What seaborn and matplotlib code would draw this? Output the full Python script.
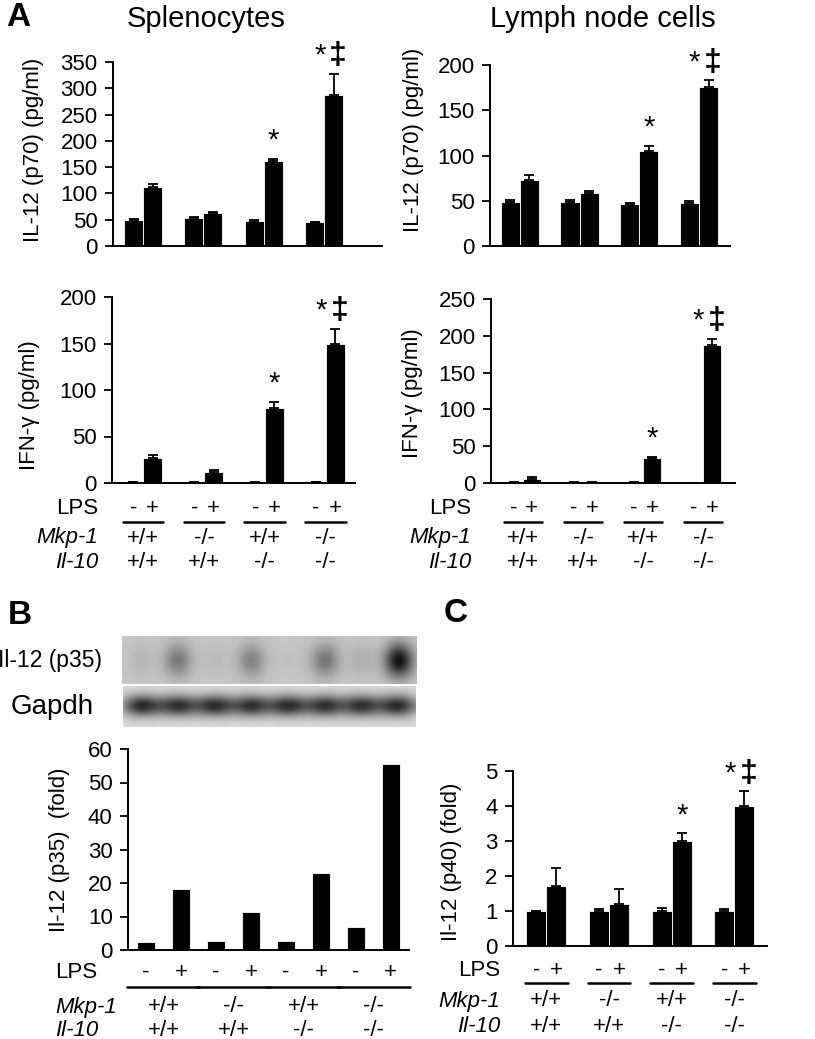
import numpy as np
import pandas as pd
import matplotlib
matplotlib.use("Agg")
import matplotlib.pyplot as plt
import matplotlib.transforms as mtransforms
import seaborn as sns

# ---------------- data ----------------
groups = ["g1", "g2", "g3", "g4"]
lps_levels = ["-", "+"]
mkp1_labels = ["+/+", "-/-", "+/+", "-/-"]
il10_labels = ["+/+", "+/+", "-/-", "-/-"]

spl_il12_minus = [50, 53, 48, 45]
spl_il12_plus = [113, 62, 162, 287]
spl_il12_err_minus = [1.5, 2, 1.5, 1.5]
spl_il12_err_plus = [4, 2, 4, 41]

lym_il12_minus = [49, 49, 46, 48]
lym_il12_plus = [73, 59, 105, 176]
lym_il12_err_minus = [2, 2, 2, 2]
lym_il12_err_plus = [5, 2, 6, 7]

spl_ifn_minus = [1, 1, 0.5, 1]
spl_ifn_plus = [27, 12, 81, 149]
spl_ifn_err_minus = [0.5, 0.5, 0.3, 0.5]
spl_ifn_err_plus = [3, 1.5, 6, 17]

lym_ifn_minus = [1, 0.5, 1, 0.3]
lym_ifn_plus = [6, 0.8, 34, 187]
lym_ifn_err_minus = [0.3, 0.2, 0.3, 0]
lym_ifn_err_plus = [2, 0.2, 2, 9]

p35_minus = [2.3, 2.8, 2.6, 6.8]
p35_plus = [18.3, 11.3, 23.0, 55.5]

p40_minus = [1, 1, 1, 1]
p40_plus = [1.72, 1.2, 3.0, 4.0]
p40_err_minus = [0, 0.05, 0.08, 0.05]
p40_err_plus = [0.5, 0.42, 0.22, 0.42]

star_marks = [False, False, True, True]
dagger_marks = [False, False, False, True]

# blot band intensities (0 = none, 1 = strongest)
p35_band = [0.08, 0.40, 0.06, 0.35, 0.03, 0.42, 0.12, 0.95]
gapdh_band = [0.85, 0.80, 0.82, 0.80, 0.82, 0.80, 0.80, 0.85]

# ---------------- setup ----------------
sns.set_theme(style="ticks")
plt.rcParams["font.family"] = ["Liberation Sans", "DejaVu Sans"]
plt.rcParams["axes.linewidth"] = 1.4

W, H = 815, 1039
FS = 16
fig = plt.figure(figsize=(W / 100, H / 100), dpi=100)
fig.patch.set_facecolor("white")
pix = mtransforms.Affine2D().scale(1 / W, -1 / H).translate(0, 1) + fig.transFigure


def rect(x0, y0, x1, y1):
    return [x0 / W, 1 - y1 / H, (x1 - x0) / W, (y1 - y0) / H]


def bar_panel(box, minus, plus, err_minus, err_plus, ylim, ystep, ylabel,
              width, gap, xlim, label_center, marks=False, rows=None):
    x0, y0, x1, y1 = box
    ax = fig.add_axes(rect(x0, y0, x1, y1))
    df = pd.DataFrame({
        "group": groups * 2,
        "lps": ["-"] * 4 + ["+"] * 4,
        "value": list(minus) + list(plus),
    })
    sns.barplot(data=df, x="group", y="value", hue="lps", order=groups,
                hue_order=lps_levels, palette=["black", "black"],
                saturation=1, width=width, gap=gap, errorbar=None,
                legend=False, ax=ax, edgecolor="white", linewidth=0.6)
    off = width / 4
    gx = np.arange(len(groups))
    if err_minus is not None:
        ax.errorbar(gx - off, minus, yerr=[np.zeros(4), err_minus], fmt="none",
                    ecolor="black", elinewidth=1.3, capsize=3.5, capthick=1.3)
        ax.errorbar(gx + off, plus, yerr=[np.zeros(4), err_plus], fmt="none",
                    ecolor="black", elinewidth=1.3, capsize=3.5, capthick=1.3)
    if marks:
        for i in range(4):
            top = plus[i] + (err_plus[i] if err_plus is not None else 0)
            if dagger_marks[i]:
                ax.annotate("\u2021", xy=(gx[i] + off, top), xytext=(3, 2),
                            textcoords="offset points", ha="center",
                            va="bottom", fontsize=23, fontweight="bold",
                            color="black")
                ax.annotate("*", xy=(gx[i] + off, top), xytext=(-10, 3),
                            textcoords="offset points", ha="center",
                            va="bottom", fontsize=21, color="black")
            elif star_marks[i]:
                ax.annotate("*", xy=(gx[i] + off, top), xytext=(0, 3),
                            textcoords="offset points", ha="center",
                            va="bottom", fontsize=21, color="black")
    ax.set_xlim(*xlim)
    ax.set_ylim(*ylim)
    ax.set_yticks(np.arange(ylim[0], ylim[1] + ystep / 2, ystep))
    ax.tick_params(axis="y", length=6, width=1.3, pad=5, labelsize=FS,
                   colors="black", direction="out")
    ax.set_xticks([])
    ax.set_xlabel("")
    sns.despine(ax=ax)
    ax.spines["left"].set_color("black")
    ax.spines["bottom"].set_color("black")
    ax.set_facecolor("white")
    ax.set_ylabel(ylabel, fontsize=FS, color="black")
    cx, cy = label_center
    ax.yaxis.label.set_verticalalignment("center")
    ax.yaxis.set_label_coords((cx - x0) / (x1 - x0), (y1 - cy) / (y1 - y0))

    if rows is not None:
        lab_x, lab_ha, y_lps, y_line, y_mkp, y_il = rows
        tr = mtransforms.blended_transform_factory(ax.transData, pix)
        for i in range(4):
            ax.text(gx[i] - off, y_lps, "-", transform=tr, ha="center",
                    va="center", fontsize=FS, color="black")
            ax.text(gx[i] + off, y_lps, "+", transform=tr, ha="center",
                    va="center", fontsize=FS, color="black")
            ax.plot([gx[i] - width / 2 - 0.02, gx[i] + width / 2 + 0.02],
                    [y_line, y_line], transform=tr, color="black", lw=1.8,
                    clip_on=False)
            ax.text(gx[i], y_mkp, mkp1_labels[i], transform=tr, ha="center",
                    va="center", fontsize=FS, color="black")
            ax.text(gx[i], y_il, il10_labels[i], transform=tr, ha="center",
                    va="center", fontsize=FS, color="black")
        fig.text(lab_x / W, 1 - y_lps / H, "LPS", ha=lab_ha, va="center",
                 fontsize=FS, color="black")
        fig.text(lab_x / W, 1 - y_mkp / H, "Mkp-1", ha=lab_ha, va="center",
                 fontsize=FS, style="italic", color="black")
        fig.text(lab_x / W, 1 - y_il / H, "Il-10", ha=lab_ha, va="center",
                 fontsize=FS, style="italic", color="black")
    return ax


# ---------------- Panel A ----------------
bar_panel((113, 62, 382, 246), spl_il12_minus, spl_il12_plus,
          spl_il12_err_minus, spl_il12_err_plus, (0, 350), 50,
          "IL-12 (p70) (pg/ml)", 0.63, 0, (-0.50, 3.96), (33, 150),
          marks=True)
bar_panel((490, 65, 730, 246), lym_il12_minus, lym_il12_plus,
          lym_il12_err_minus, lym_il12_err_plus, (0, 200), 50,
          "IL-12 (p70) (pg/ml)", 0.64, 0, (-0.50, 3.52), (413, 140),
          marks=True)
bar_panel((112, 297, 355, 483), spl_ifn_minus, spl_ifn_plus,
          spl_ifn_err_minus, spl_ifn_err_plus, (0, 200), 50,
          "IFN-\u03b3 (pg/ml)", 0.63, 0, (-0.51, 3.48), (30, 405),
          marks=True, rows=(98, "right", 508, 522, 538, 563))
bar_panel((491, 299, 735, 483), lym_ifn_minus, lym_ifn_plus,
          lym_ifn_err_minus, lym_ifn_err_plus, (0, 250), 50,
          "IFN-\u03b3 (pg/ml)", 0.60, 0, (-0.53, 3.53), (413, 393),
          marks=True, rows=(471, "right", 508, 522, 538, 563))

fig.text(18 / W, 1 - 18 / H, "A", ha="center", va="center", fontsize=24,
         fontweight="bold", color="black")
fig.text(206 / W, 1 - 19 / H, "Splenocytes", ha="center", va="center",
         fontsize=21, color="black")
fig.text(603 / W, 1 - 19 / H, "Lymph node cells", ha="center", va="center",
         fontsize=21, color="black")

# ---------------- Panel B ----------------
fig.text(20 / W, 1 - 615 / H, "B", ha="center", va="center", fontsize=24,
         fontweight="bold", color="black")

nx = 294
lane_c = (np.arange(8) + 0.5) / 8 * nx
xx = np.arange(nx)[None, :]
h1, h2 = 48, 41
yy1 = np.arange(h1)[:, None]
img1 = np.full((h1, nx), 0.78)
for c, a in zip(lane_c, p35_band):
    img1 -= 0.75 * a * np.exp(-((xx - c) ** 2) / (2 * 10.0 ** 2)) * \
        np.exp(-((yy1 - h1 * 0.5) ** 2) / (2 * 12.0 ** 2))
ax_b1 = fig.add_axes(rect(122, 636, 416, 684))
ax_b1.imshow(np.clip(img1, 0, 1), cmap="gray", vmin=0, vmax=1, aspect="auto",
             interpolation="bilinear")
ax_b1.axis("off")

yy2 = np.arange(h2)[:, None]
img2 = np.full((h2, nx), 0.86)
for c, a in zip(lane_c, gapdh_band):
    img2 -= 0.8 * a * np.exp(-((xx - c) ** 2) / (2 * 14.0 ** 2)) * \
        np.exp(-((yy2 - h2 * 0.48) ** 2) / (2 * 7.5 ** 2))
ax_b2 = fig.add_axes(rect(123, 686, 416, 727))
ax_b2.imshow(np.clip(img2, 0, 1), cmap="gray", vmin=0, vmax=1, aspect="auto",
             interpolation="bilinear")
ax_b2.axis("off")

fig.text(102 / W, 1 - 661 / H, "Il-12 (p35)", ha="right", va="center",
         fontsize=16.5, color="black")
fig.text(52 / W, 1 - 707 / H, "Gapdh", ha="center", va="center",
         fontsize=20, color="black")

bar_panel((128, 749, 409, 950), p35_minus, p35_plus, None, None, (0, 60), 10,
          "Il-12 (p35)  (fold)", 1.0, 0.48, (-0.51, 3.51), (60, 850),
          marks=False, rows=(55, "left", 972, 987, 1007, 1030))

# ---------------- Panel C ----------------
fig.text(456 / W, 1 - 613 / H, "C", ha="center", va="center", fontsize=24,
         fontweight="bold", color="black")
bar_panel((513, 771, 767, 946), p40_minus, p40_plus, p40_err_minus,
          p40_err_plus, (0, 5), 1, "Il-12 (p40) (fold)", 0.64, 0,
          (-0.53, 3.52), (451, 862), marks=True,
          rows=(500, "right", 970, 983, 1001, 1026))

fig.savefig("out.png", dpi=100, facecolor="white")
